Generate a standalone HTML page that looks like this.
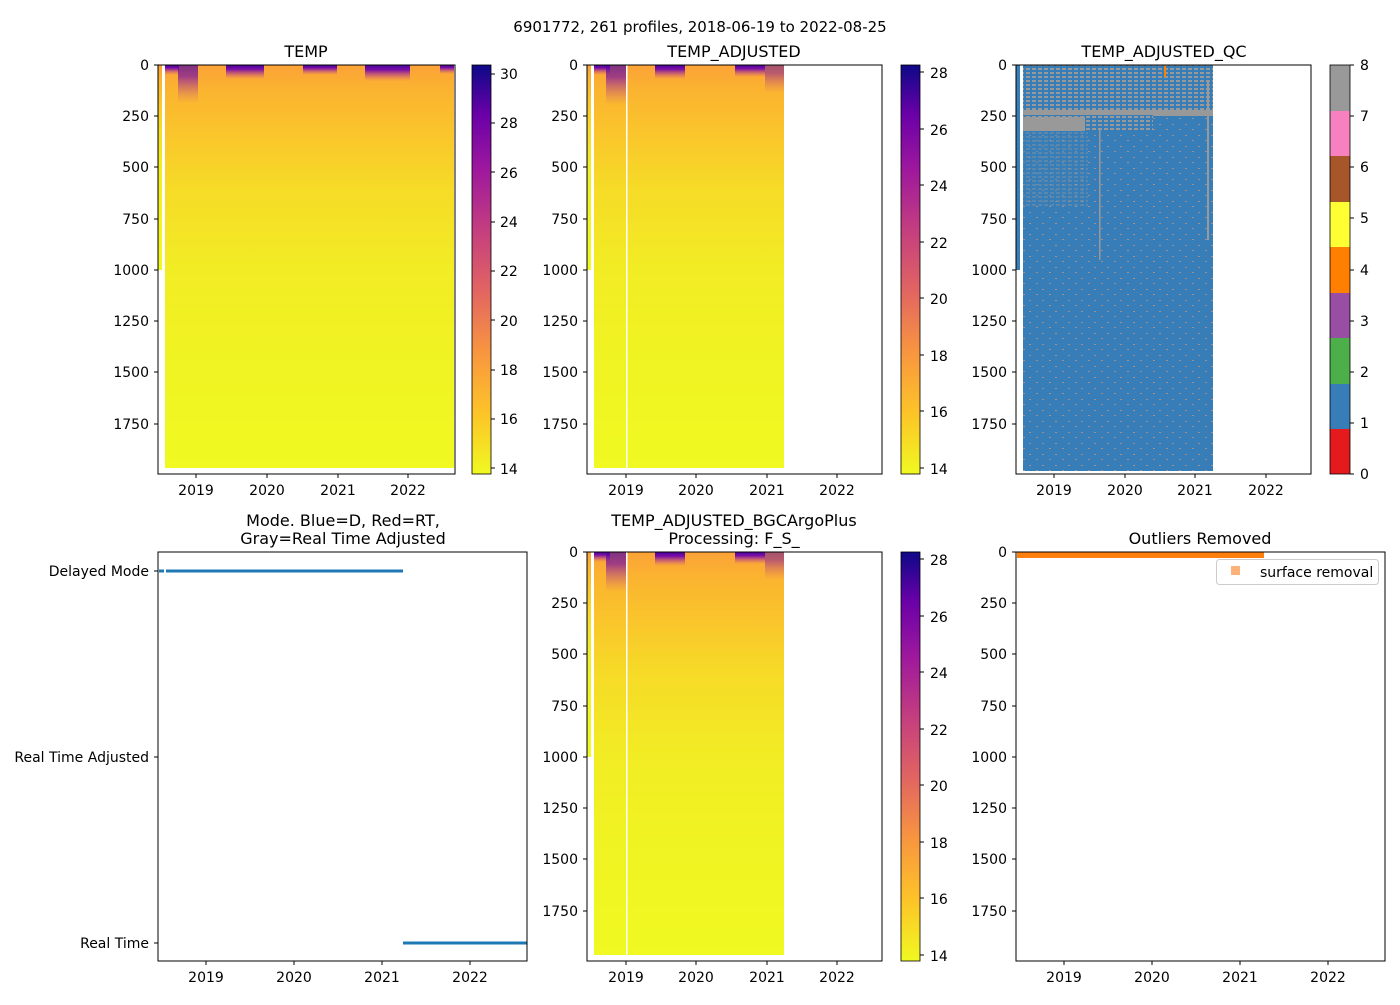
<!DOCTYPE html>
<html><head><meta charset="utf-8"><style>
html,body{margin:0;padding:0;background:#fff}
svg text{font-family:"DejaVu Sans","Liberation Sans",sans-serif;fill:#000}
</style></head><body>
<svg width="1400" height="1000" viewBox="0 0 1400 1000" xmlns="http://www.w3.org/2000/svg">
<defs>
<linearGradient id="hv" x1="0" y1="0" x2="0" y2="1">
<stop offset="0" stop-color="#fba238"/>
<stop offset="0.06" stop-color="#fbb330"/>
<stop offset="0.15" stop-color="#fac22c"/>
<stop offset="0.3" stop-color="#f6da27"/>
<stop offset="0.5" stop-color="#f2ec24"/>
<stop offset="0.75" stop-color="#f0f422"/>
<stop offset="1" stop-color="#f0f921"/>
</linearGradient>
<linearGradient id="pp" x1="0" y1="0" x2="0" y2="1">
<stop offset="0" stop-color="#4a02a0"/>
<stop offset="0.3" stop-color="#7a0ea5"/>
<stop offset="1" stop-color="#d0508a" stop-opacity="0"/>
</linearGradient>
<linearGradient id="plasma" x1="0" y1="1" x2="0" y2="0">
<stop offset="0" stop-color="#f0f921"/>
<stop offset="0.15" stop-color="#fdc328"/>
<stop offset="0.3" stop-color="#f89540"/>
<stop offset="0.45" stop-color="#e16462"/>
<stop offset="0.6" stop-color="#c33d80"/>
<stop offset="0.75" stop-color="#9c179e"/>
<stop offset="0.88" stop-color="#6a00a8"/>
<stop offset="1" stop-color="#0d0887"/>
</linearGradient>
<pattern id="qcmix" width="6" height="4" patternUnits="userSpaceOnUse">
<rect width="6" height="4" fill="#377eb8"/>
<rect width="4" height="2" fill="#999999"/>
</pattern>
<pattern id="qcdots" width="13" height="11" patternUnits="userSpaceOnUse">
<rect width="13" height="11" fill="#377eb8"/>
<rect x="2" y="3" width="2" height="1" fill="#a08f8a"/>
<rect x="9" y="8" width="2" height="1" fill="#a08f8a"/>
</pattern>
</defs>

<text x="700" y="32" font-size="15" text-anchor="middle">6901772, 261 profiles, 2018-06-19 to 2022-08-25</text>

<!-- Panel 1 TEMP -->
<text x="306" y="57" font-size="16" text-anchor="middle">TEMP</text>
<rect x="158" y="65" width="4" height="205" fill="url(#hv)"/>
<rect x="165" y="65" width="289" height="403" fill="url(#hv)"/>
<rect x="165" y="65" width="14" height="10" fill="url(#pp)"/>
<rect x="178" y="65" width="20" height="38" fill="url(#pp)" opacity="0.7"/>
<rect x="226" y="65" width="38" height="14" fill="url(#pp)"/>
<rect x="303" y="65" width="34" height="10" fill="url(#pp)"/>
<rect x="365" y="65" width="45" height="16" fill="url(#pp)"/>
<rect x="440" y="65" width="14" height="9" fill="url(#pp)"/>
<rect x="158" y="65" width="297" height="409" fill="none" stroke="#000" stroke-width="1"/>
<rect x="472" y="65" width="19" height="409" fill="url(#plasma)" stroke="#000" stroke-width="0.8"/>
<g font-size="14">
<text x="500" y="79">30</text><text x="500" y="128">28</text><text x="500" y="178">26</text><text x="500" y="227">24</text><text x="500" y="276">22</text><text x="500" y="326">20</text><text x="500" y="375">18</text><text x="500" y="424">16</text><text x="500" y="474">14</text>
</g>

<!-- Panel 2 TEMP_ADJUSTED -->
<text x="734" y="57" font-size="16" text-anchor="middle">TEMP_ADJUSTED</text>
<rect x="587" y="65" width="4" height="205" fill="url(#hv)"/>
<rect x="594" y="65" width="190" height="403" fill="url(#hv)"/>
<rect x="626" y="65" width="1.5" height="409" fill="#fff"/>
<rect x="594" y="65" width="16" height="10" fill="url(#pp)"/>
<rect x="606" y="65" width="20" height="40" fill="url(#pp)" opacity="0.7"/>
<rect x="655" y="65" width="30" height="14" fill="url(#pp)"/>
<rect x="735" y="65" width="30" height="12" fill="url(#pp)"/>
<rect x="765" y="65" width="19" height="28" fill="url(#pp)" opacity="0.5"/>
<rect x="587" y="65" width="295" height="409" fill="none" stroke="#000"/>
<rect x="901" y="65" width="19" height="409" fill="url(#plasma)" stroke="#000" stroke-width="0.8"/>
<g font-size="14">
<text x="930" y="78">28</text><text x="930" y="135">26</text><text x="930" y="191">24</text><text x="930" y="248">22</text><text x="930" y="304">20</text><text x="930" y="361">18</text><text x="930" y="417">16</text><text x="930" y="474">14</text>
</g>

<!-- Panel 3 QC -->
<text x="1164" y="57" font-size="16" text-anchor="middle">TEMP_ADJUSTED_QC</text>
<rect x="1016" y="65" width="4" height="205" fill="#377eb8"/>
<rect x="1023" y="65" width="190" height="406" fill="url(#qcdots)"/>
<rect x="1023" y="65" width="190" height="50" fill="url(#qcmix)"/>
<rect x="1023" y="110" width="190" height="6" fill="#999"/>
<rect x="1023" y="115" width="130" height="15" fill="url(#qcmix)"/>
<rect x="1023" y="117" width="62" height="14" fill="#999"/>
<rect x="1085" y="117" width="68" height="14" fill="url(#qcmix)"/>
<rect x="1023" y="131" width="65" height="75" fill="url(#qcmix)" opacity="0.35"/>
<rect x="1099" y="130" width="1.5" height="130" fill="#999"/>
<rect x="1207" y="80" width="2" height="160" fill="#999"/>
<rect x="1164" y="65" width="2" height="12" fill="#ff7f00"/>
<rect x="1016" y="65" width="295" height="409" fill="none" stroke="#000"/>
<rect x="1330" y="65" width="20" height="46" fill="#999999"/>
<rect x="1330" y="111" width="20" height="45" fill="#f781bf"/>
<rect x="1330" y="156" width="20" height="46" fill="#a65628"/>
<rect x="1330" y="202" width="20" height="45" fill="#ffff33"/>
<rect x="1330" y="247" width="20" height="46" fill="#ff7f00"/>
<rect x="1330" y="293" width="20" height="45" fill="#984ea3"/>
<rect x="1330" y="338" width="20" height="46" fill="#4daf4a"/>
<rect x="1330" y="384" width="20" height="45" fill="#377eb8"/>
<rect x="1330" y="429" width="20" height="45" fill="#e41a1c"/>
<rect x="1330" y="65" width="20" height="409" fill="none" stroke="#000" stroke-width="0.8"/>
<g font-size="14">
<text x="1360" y="70">8</text><text x="1360" y="121">7</text><text x="1360" y="172">6</text><text x="1360" y="223">5</text><text x="1360" y="275">4</text><text x="1360" y="326">3</text><text x="1360" y="377">2</text><text x="1360" y="428">1</text><text x="1360" y="479">0</text>
</g>

<!-- top y ticks -->
<g font-size="14" text-anchor="end">
<text x="149" y="70">0</text><text x="149" y="121">250</text><text x="149" y="172">500</text><text x="149" y="224">750</text><text x="149" y="275">1000</text><text x="149" y="326">1250</text><text x="149" y="377">1500</text><text x="149" y="429">1750</text>
<text x="578" y="70">0</text><text x="578" y="121">250</text><text x="578" y="172">500</text><text x="578" y="224">750</text><text x="578" y="275">1000</text><text x="578" y="326">1250</text><text x="578" y="377">1500</text><text x="578" y="429">1750</text>
<text x="1007" y="70">0</text><text x="1007" y="121">250</text><text x="1007" y="172">500</text><text x="1007" y="224">750</text><text x="1007" y="275">1000</text><text x="1007" y="326">1250</text><text x="1007" y="377">1500</text><text x="1007" y="429">1750</text>
</g>
<g stroke="#000">
<path d="M154 65H158M154 116H158M154 167H158M154 219H158M154 270H158M154 321H158M154 372H158M154 424H158"/>
<path d="M583 65H587M583 116H587M583 167H587M583 219H587M583 270H587M583 321H587M583 372H587M583 424H587"/>
<path d="M1012 65H1016M1012 116H1016M1012 167H1016M1012 219H1016M1012 270H1016M1012 321H1016M1012 372H1016M1012 424H1016"/>
<path d="M196 474V478M267 474V478M338 474V478M408 474V478"/>
<path d="M626 474V478M696 474V478M767 474V478M837 474V478"/>
<path d="M1054 474V478M1125 474V478M1195 474V478M1266 474V478"/>
<path d="M491 74H495M491 123H495M491 172H495M491 222H495M491 271H495M491 320H495M491 370H495M491 419H495M491 468H495"/>
<path d="M920 72H924M920 129H924M920 185H924M920 242H924M920 298H924M920 355H924M920 411H924M920 468H924"/>
<path d="M1350 65H1354M1350 116H1354M1350 167H1354M1350 218H1354M1350 270H1354M1350 321H1354M1350 372H1354M1350 423H1354M1350 474H1354"/>
</g>
<g font-size="14" text-anchor="middle">
<text x="196" y="495">2019</text><text x="267" y="495">2020</text><text x="338" y="495">2021</text><text x="408" y="495">2022</text>
<text x="626" y="495">2019</text><text x="696" y="495">2020</text><text x="767" y="495">2021</text><text x="837" y="495">2022</text>
<text x="1054" y="495">2019</text><text x="1125" y="495">2020</text><text x="1195" y="495">2021</text><text x="1266" y="495">2022</text>
</g>

<!-- Panel 4 Mode -->
<text x="343" y="526" font-size="16" text-anchor="middle">Mode. Blue=D, Red=RT,</text>
<text x="343" y="544" font-size="16" text-anchor="middle">Gray=Real Time Adjusted</text>
<path d="M159 571H164M166 571H403" stroke="#1f77b4" stroke-width="3"/>
<path d="M403 943H527" stroke="#1f77b4" stroke-width="3"/>
<rect x="158" y="552" width="369" height="409" fill="none" stroke="#000"/>
<g font-size="14" text-anchor="end">
<text x="149" y="576">Delayed Mode</text><text x="149" y="762">Real Time Adjusted</text><text x="149" y="948">Real Time</text>
</g>
<g stroke="#000"><path d="M154 571H158M154 757H158M154 943H158M206 961V965M294 961V965M382 961V965M470 961V965"/></g>
<g font-size="14" text-anchor="middle">
<text x="206" y="982">2019</text><text x="294" y="982">2020</text><text x="382" y="982">2021</text><text x="470" y="982">2022</text>
</g>

<!-- Panel 5 BGC -->
<text x="734" y="526" font-size="16" text-anchor="middle">TEMP_ADJUSTED_BGCArgoPlus</text>
<text x="734" y="544" font-size="16" text-anchor="middle">Processing: F_S_</text>
<rect x="587" y="552" width="4" height="205" fill="url(#hv)"/>
<rect x="594" y="552" width="190" height="403" fill="url(#hv)"/>
<rect x="626" y="552" width="1.5" height="409" fill="#fff"/>
<rect x="594" y="552" width="16" height="10" fill="url(#pp)"/>
<rect x="606" y="552" width="20" height="40" fill="url(#pp)" opacity="0.7"/>
<rect x="655" y="552" width="30" height="14" fill="url(#pp)"/>
<rect x="735" y="552" width="30" height="12" fill="url(#pp)"/>
<rect x="765" y="552" width="19" height="28" fill="url(#pp)" opacity="0.5"/>
<rect x="587" y="552" width="295" height="409" fill="none" stroke="#000"/>
<rect x="901" y="552" width="19" height="409" fill="url(#plasma)" stroke="#000" stroke-width="0.8"/>
<g font-size="14">
<text x="930" y="565">28</text><text x="930" y="622">26</text><text x="930" y="678">24</text><text x="930" y="735">22</text><text x="930" y="791">20</text><text x="930" y="848">18</text><text x="930" y="904">16</text><text x="930" y="961">14</text>
</g>

<!-- Panel 6 Outliers -->
<text x="1200" y="544" font-size="16" text-anchor="middle">Outliers Removed</text>
<rect x="1017" y="552" width="247" height="6" fill="#ff7f0e"/>
<rect x="1016" y="552" width="369" height="409" fill="none" stroke="#000"/>
<rect x="1216.5" y="559.5" width="162" height="25" rx="3" fill="#fff" stroke="#ccc"/>
<rect x="1231" y="566" width="9" height="9" fill="#ffb27a"/>
<text x="1260" y="577" font-size="14">surface removal</text>

<!-- bottom y ticks -->
<g font-size="14" text-anchor="end">
<text x="578" y="557">0</text><text x="578" y="608">250</text><text x="578" y="659">500</text><text x="578" y="711">750</text><text x="578" y="762">1000</text><text x="578" y="813">1250</text><text x="578" y="864">1500</text><text x="578" y="916">1750</text>
<text x="1007" y="557">0</text><text x="1007" y="608">250</text><text x="1007" y="659">500</text><text x="1007" y="711">750</text><text x="1007" y="762">1000</text><text x="1007" y="813">1250</text><text x="1007" y="864">1500</text><text x="1007" y="916">1750</text>
</g>
<g stroke="#000">
<path d="M583 552H587M583 603H587M583 654H587M583 706H587M583 757H587M583 808H587M583 859H587M583 911H587"/>
<path d="M1012 552H1016M1012 603H1016M1012 654H1016M1012 706H1016M1012 757H1016M1012 808H1016M1012 859H1016M1012 911H1016"/>
<path d="M626 961V965M696 961V965M767 961V965M837 961V965"/>
<path d="M1064 961V965M1152 961V965M1240 961V965M1328 961V965"/>
<path d="M920 559H924M920 616H924M920 672H924M920 729H924M920 785H924M920 842H924M920 898H924M920 955H924"/>
</g>
<g font-size="14" text-anchor="middle">
<text x="626" y="982">2019</text><text x="696" y="982">2020</text><text x="767" y="982">2021</text><text x="837" y="982">2022</text>
<text x="1064" y="982">2019</text><text x="1152" y="982">2020</text><text x="1240" y="982">2021</text><text x="1328" y="982">2022</text>
</g>
</svg>
</body></html>
